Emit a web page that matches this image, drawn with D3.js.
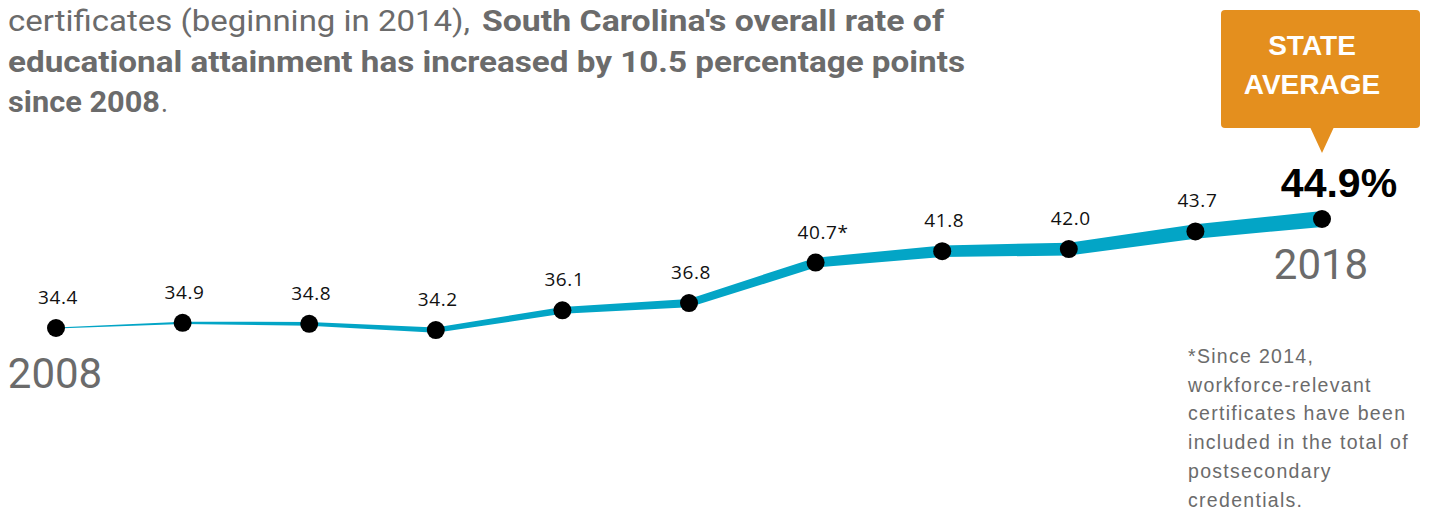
<!DOCTYPE html>
<html>
<head>
<meta charset="utf-8">
<script src="https://cdn.jsdelivr.net/npm/d3@7"></script>
<style>
  html, body { margin: 0; padding: 0; background: #fff; }
  svg { display: block; }
</style>
</head>
<body>
<div id="chart"></div>
<script>
// Data
const YEARS = [2008, 2009, 2010, 2011, 2012, 2013, 2014, 2015, 2016, 2017, 2018];
const RATES = [34.4, 34.9, 34.8, 34.2, 36.1, 36.8, 40.7, 41.8, 42.0, 43.7, 44.9];
const LABELS = ["34.4", "34.9", "34.8", "34.2", "36.1", "36.8", "40.7", "41.8", "42.0", "43.7", "44.9%"];
const FOOTNOTE_YEAR = 2014;
const HEADER_LINES = [
	[{ t: "certificates (beginning in 2014),", bold: false, x0: 8, x1: 470 },
	 { t: "South Carolina's overall rate of", bold: true, x0: 482, x1: 944 }],
	[{ t: "educational attainment has increased by 10.5 percentage points", bold: true, x0: 8, x1: 965 }],
	[{ t: "since 2008", bold: true, x0: 8, x1: 160 },
	 { t: ".", bold: false, x0: 161, x1: 168 }],
];
const CALLOUT = ["STATE", "AVERAGE"];
const FOOTNOTE = [
	"*Since 2014,",
	"workforce-relevant",
	"certificates have been",
	"included in the total of",
	"postsecondary",
	"credentials.",
];

const width = 1432;
const height = 515;
const LINE_COLOR = "#03a5c6";
const GREY = "#6b6b6b";

var svg = d3.select("#chart").append("svg")
	.attr("width", width)
	.attr("height", height);

// Header paragraph
HEADER_LINES.forEach(function(line, i) {
	line.forEach(function(seg) {
		svg.append("text")
			.attr("x", seg.x0)
			.attr("y", 31 + i * 40.5)
			.attr("textLength", seg.x1 - seg.x0)
			.attr("lengthAdjust", "spacingAndGlyphs")
			.attr("font-family", "Roboto, 'Liberation Sans', sans-serif")
			.attr("font-size", 30)
			.attr("font-weight", seg.bold ? 700 : 400)
			.attr("fill", GREY)
			.text(seg.t);
	});
});

// Scales
var x = d3.scaleLinear()
	.domain([YEARS[0], YEARS[YEARS.length - 1]])
	.range([56, 1322]);
var y = d3.scaleLinear()
	.domain([34.4, 44.9])
	.range([328, 219]);
// stroke gets thicker over time
var w = d3.scaleLinear()
	.domain([YEARS[0], YEARS[YEARS.length - 1]])
	.range([0.8, 16]);

var data = YEARS.map(function(d, i) {
	return { year: d, value: RATES[i], label: LABELS[i] };
});

// Tapered line drawn as an area
var band = d3.area()
	.x(function(d) { return x(d.year); })
	.y0(function(d) { return y(d.value) - w(d.year) / 2; })
	.y1(function(d) { return y(d.value) + w(d.year) / 2; });

svg.append("path")
	.datum(data)
	.attr("d", band)
	.attr("fill", LINE_COLOR);

// Points
svg.selectAll(".dot")
	.data(data)
	.enter().append("circle")
	.attr("class", "dot")
	.attr("cx", function(d) { return x(d.year); })
	.attr("cy", function(d) { return y(d.value); })
	.attr("r", 9)
	.attr("fill", "#000");

// Value labels
var last = data.length - 1;
data.forEach(function(d, i) {
	if (i === last) {
		svg.append("text")
			.attr("x", x(d.year) + 17)
			.attr("y", y(d.value) - 22)
			.attr("text-anchor", "middle")
			.attr("font-family", "'Liberation Sans', Arial, sans-serif")
			.attr("font-weight", 700)
			.attr("font-size", 41)
			.attr("fill", "#000")
			.text(d.label);
		return;
	}
	var t = svg.append("text")
		.attr("x", x(d.year) + 2)
		.attr("y", y(d.value) - 24)
		.attr("text-anchor", "middle")
		.attr("font-family", "'Open Sans', sans-serif")
		.attr("font-size", 19)
		.attr("letter-spacing", 0.6)
		.attr("fill", "#111")
		.text(d.label);
	if (d.year === FOOTNOTE_YEAR) {
		var tw = t.node().getComputedTextLength();
		svg.append("text")
			.attr("x", x(d.year) + 2 + tw / 2)
			.attr("y", y(d.value) - 24)
			.attr("font-family", "'Open Sans', sans-serif")
			.attr("font-size", 19)
			.attr("fill", "#111")
			.text("*");
	}
});

// Year labels at both ends
[data[0], data[last]].forEach(function(d) {
	svg.append("text")
		.attr("x", x(d.year) - 1)
		.attr("y", y(d.value) + 60)
		.attr("text-anchor", "middle")
		.attr("font-family", "Roboto, sans-serif")
		.attr("font-size", 42)
		.attr("fill", GREY)
		.text(d.year);
});

// Callout box
var cx = x(YEARS[last]);
var box = svg.append("g");
box.append("rect")
	.attr("x", 1221)
	.attr("y", 10)
	.attr("width", 199)
	.attr("height", 118)
	.attr("rx", 4)
	.attr("fill", "#e48f1e");
box.append("path")
	.attr("d", "M" + (cx - 12) + ",127 L" + (cx + 12) + ",127 L" + cx + ",153 Z")
	.attr("fill", "#e48f1e");
CALLOUT.forEach(function(s, i) {
	box.append("text")
		.attr("x", 1312)
		.attr("y", 55 + i * 39)
		.attr("text-anchor", "middle")
		.attr("font-family", "'Liberation Sans', Arial, sans-serif")
		.attr("font-weight", 700)
		.attr("font-size", 28)
		.attr("fill", "#fff")
		.text(s);
});

// Footnote
FOOTNOTE.forEach(function(s, i) {
	svg.append("text")
		.attr("x", 1188)
		.attr("y", 363 + i * 28.7)
		.attr("font-family", "'Liberation Sans', Arial, sans-serif")
		.attr("font-size", 19.5)
		.attr("letter-spacing", 1.3)
		.attr("fill", GREY)
		.text(s);
});
</script>
</body>
</html>
